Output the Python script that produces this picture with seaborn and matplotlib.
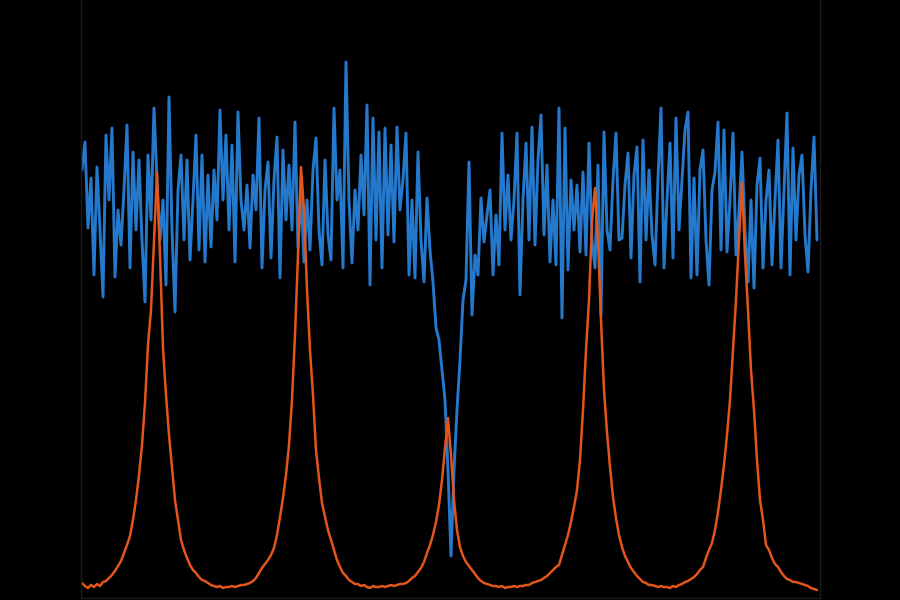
"""
Transmission vs. cavity resonance trace, redrawn on a black background.
"""

import numpy as np
import matplotlib
matplotlib.use("Agg")
import matplotlib.pyplot as plt
import seaborn as sns

# Blue trace: noisy transmission signal with a single deep dip (arb. units)
transmission = [
    430, 458, 372, 422, 325, 433, 370, 303, 465, 400, 472, 323, 390, 355, 410, 475,
    332, 448, 370, 440, 360, 298, 445, 380, 492, 420, 360, 400, 315, 503, 370, 288,
    410, 445, 360, 440, 340, 400, 465, 350, 445, 338, 425, 353, 430, 380, 490, 400,
    465, 370, 455, 338, 488, 400, 370, 415, 352, 425, 390, 482, 332, 410, 438, 342,
    420, 463, 322, 450, 380, 435, 370, 478, 352, 410, 338, 400, 350, 430, 462, 370,
    335, 440, 365, 340, 492, 400, 430, 332, 538, 400, 337, 410, 370, 445, 385, 495,
    315, 482, 360, 468, 332, 472, 365, 455, 358, 473, 390, 420, 467, 325, 400, 322,
    448, 360, 318, 402, 350, 318, 272, 260, 230, 200, 130, 44, 130, 190, 240, 300,
    320, 438, 285, 345, 325, 402, 358, 385, 410, 325, 385, 335, 467, 370, 425, 360,
    400, 467, 305, 400, 457, 360, 473, 355, 440, 485, 365, 435, 338, 400, 335, 492,
    282, 472, 330, 420, 370, 415, 348, 428, 345, 457, 360, 332, 435, 285, 468, 370,
    350, 420, 467, 360, 362, 415, 447, 342, 425, 453, 318, 460, 360, 430, 365, 335,
    422, 492, 332, 400, 457, 342, 482, 370, 420, 470, 488, 322, 422, 325, 430, 450,
    360, 315, 410, 428, 478, 350, 470, 348, 400, 467, 345, 390, 448, 370, 318, 400,
    312, 415, 442, 332, 400, 430, 335, 400, 460, 332, 410, 487, 325, 452, 360, 425,
    445, 365, 328, 410, 463, 360,
]

# Orange trace: reference cavity with five resonance peaks (arb. units)
reference = [
    17, 14, 12, 15, 13, 16, 14, 18, 19, 22, 25, 29, 34, 39, 47, 55,
    64, 80, 100, 125, 155, 197, 255, 290, 358, 427, 345, 252, 205, 165, 133, 100,
    80, 60, 50, 42, 35, 30, 27, 23, 20, 19, 17, 15, 14, 13, 14, 12,
    13, 13, 14, 13, 14, 15, 15, 16, 17, 19, 22, 27, 32, 36, 40, 45,
    52, 65, 83, 102, 125, 155, 200, 265, 345, 433, 390, 310, 250, 205, 150, 122,
    97, 83, 70, 60, 50, 40, 33, 27, 24, 20, 18, 16, 16, 14, 15, 13,
    12, 14, 13, 13, 14, 13, 14, 15, 14, 15, 16, 16, 17, 19, 22, 24,
    28, 32, 38, 47, 55, 65, 78, 95, 120, 152, 182, 145, 100, 70, 53, 44,
    38, 34, 30, 26, 22, 19, 17, 16, 15, 14, 14, 13, 14, 12, 13, 13,
    14, 13, 14, 14, 15, 15, 17, 18, 19, 20, 22, 24, 27, 30, 33, 35,
    45, 55, 65, 78, 93, 110, 140, 190, 250, 300, 378, 412, 360, 280, 210, 168,
    133, 103, 82, 65, 53, 44, 38, 32, 28, 24, 21, 18, 17, 15, 15, 14,
    13, 14, 13, 13, 12, 14, 13, 15, 16, 18, 19, 21, 23, 26, 30, 33,
    42, 50, 57, 70, 88, 110, 135, 165, 200, 250, 300, 360, 417, 345, 290, 230,
    190, 140, 100, 80, 55, 50, 42, 36, 33, 28, 24, 21, 20, 18, 18, 17,
    16, 15, 14, 12, 11, 10,
]

BLUE = "#2479CC"
ORANGE = "#E2561B"

sns.set_theme(style="dark", rc={
    "figure.facecolor": "black",
    "axes.facecolor": "black",
    "axes.edgecolor": "#1c1c1c",
})

sample = np.arange(len(transmission))

fig = plt.figure(figsize=(9, 6), dpi=100)
ax = fig.add_axes([81 / 900, 2 / 600, 739 / 900, 598 / 600])

sns.lineplot(x=sample, y=transmission, color=BLUE, linewidth=2.1, ax=ax)
sns.lineplot(x=sample, y=reference, color=ORANGE, linewidth=1.8, ax=ax)

ax.set_xlim(-0.33, len(transmission))
ax.set_ylim(2, 600)
ax.set_xticks([])
ax.set_yticks([])
ax.set_xlabel("")
ax.set_ylabel("")
ax.grid(False)
for side in ("left", "right", "bottom"):
    ax.spines[side].set_color("#1c1c1c")
    ax.spines[side].set_linewidth(1.0)
ax.spines["top"].set_visible(False)

fig.savefig("out.png", dpi=100, facecolor="black")
